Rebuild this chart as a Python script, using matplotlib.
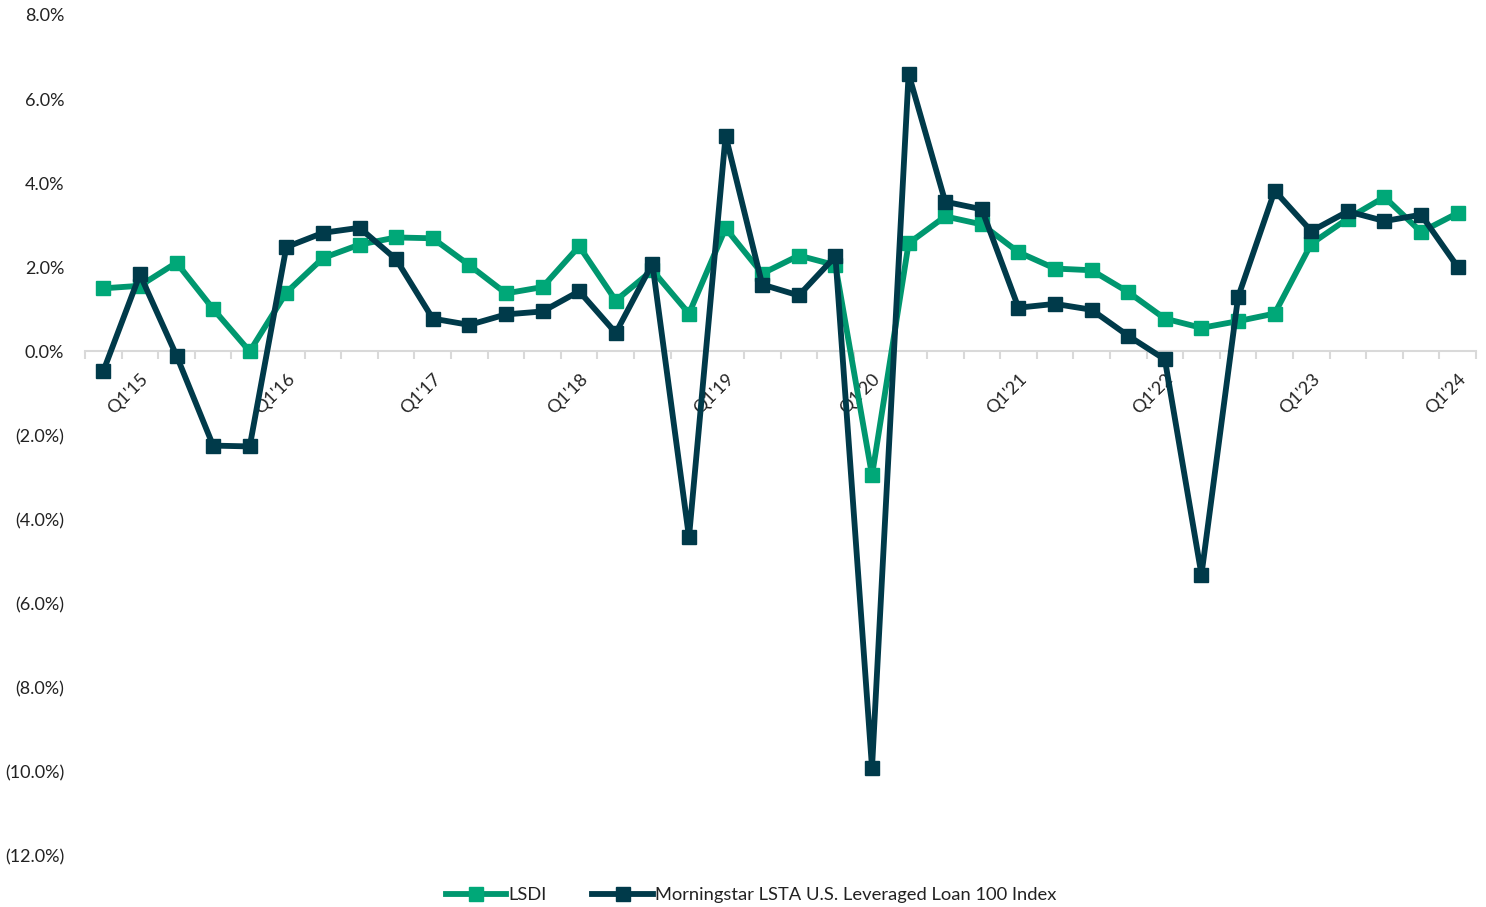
import matplotlib
matplotlib.use("Agg")
import matplotlib.pyplot as plt
from matplotlib.ticker import FixedLocator, FuncFormatter

plt.rcParams['font.family'] = ['Lato', 'DejaVu Sans']

quarters = ["Q4'14",
            "Q1'15", "Q2'15", "Q3'15", "Q4'15",
            "Q1'16", "Q2'16", "Q3'16", "Q4'16",
            "Q1'17", "Q2'17", "Q3'17", "Q4'17",
            "Q1'18", "Q2'18", "Q3'18", "Q4'18",
            "Q1'19", "Q2'19", "Q3'19", "Q4'19",
            "Q1'20", "Q2'20", "Q3'20", "Q4'20",
            "Q1'21", "Q2'21", "Q3'21", "Q4'21",
            "Q1'22", "Q2'22", "Q3'22", "Q4'22",
            "Q1'23", "Q2'23", "Q3'23", "Q4'23",
            "Q1'24"]

lsdi = [1.50, 1.56, 2.11, 1.01, 0.00, 1.40, 2.22, 2.54, 2.71, 2.69,
        2.05, 1.38, 1.53, 2.50, 1.21, 1.93, 0.90, 2.93, 1.85, 2.28,
        2.05, -2.95, 2.57, 3.21, 3.02, 2.36, 1.97, 1.93, 1.41, 0.78,
        0.56, 0.72, 0.90, 2.56, 3.16, 3.67, 2.84, 3.29]

lsta = [-0.47, 1.83, -0.10, -2.24, -2.26, 2.48, 2.82, 2.94, 2.19, 0.78,
        0.63, 0.88, 0.95, 1.43, 0.44, 2.09, -4.42, 5.13, 1.59, 1.33,
        2.26, -9.90, 6.60, 3.56, 3.38, 1.04, 1.13, 0.99, 0.37, -0.19,
        -5.31, 1.29, 3.82, 2.86, 3.33, 3.10, 3.25, 2.01]

series_names = ["LSDI", "Morningstar LSTA U.S. Leveraged Loan 100 Index"]
y_ticks = [8, 6, 4, 2, 0, -2, -4, -6, -8, -10, -12]

GREEN_LINE = "#00976F"
GREEN_MARK = "#00A878"
NAVY = "#003A4A"

fig = plt.figure(figsize=(14.86, 9.07), dpi=100)
ax = fig.add_axes([85/1486, 1 - 856/907, (1476 - 85)/1486, (856 - 15)/907])

x = list(range(len(quarters)))
ax.plot(x, lsdi, color=GREEN_LINE, lw=4.2, marker='s', markersize=10,
        markerfacecolor=GREEN_MARK, markeredgecolor=GREEN_MARK,
        label=series_names[0], zorder=3)
ax.plot(x, lsta, color=NAVY, lw=4.2, marker='s', markersize=10,
        markerfacecolor=NAVY, markeredgecolor=NAVY,
        label=series_names[1], zorder=4)

ax.set_xlim(-0.5, len(quarters) - 0.5)
ax.set_ylim(-12, 8)

for s in ['top', 'right', 'left']:
    ax.spines[s].set_visible(False)
ax.spines['bottom'].set_position(('data', 0))
ax.spines['bottom'].set_color('#D9D9D9')
ax.spines['bottom'].set_linewidth(1.5)
ax.spines['bottom'].set_zorder(1)

major_idx = [i for i, q in enumerate(quarters) if q.startswith("Q1")]
ax.xaxis.set_major_locator(FixedLocator(major_idx))
ax.set_xticklabels([quarters[i] for i in major_idx], rotation=45,
                   ha='right', va='top', rotation_mode='anchor',
                   fontsize=13, color='#222222')
ax.xaxis.set_minor_locator(FixedLocator([i - 0.5 for i in range(len(quarters) + 1)]))
ax.tick_params(axis='x', which='major', length=0, pad=14)
ax.tick_params(axis='x', which='minor', length=6, width=1.5, color='#D9D9D9')

def fmt(v, pos):
    if v < 0:
        return "({:.1f}%)".format(-v)
    return "{:.1f}%".format(v)

ax.yaxis.set_major_locator(FixedLocator(y_ticks))
ax.yaxis.set_major_formatter(FuncFormatter(fmt))
ax.tick_params(axis='y', length=0, pad=15, labelsize=13, labelcolor='#222222')

leg = fig.legend(loc='center', bbox_to_anchor=(751/1486, 1 - 895/907), ncol=2,
                 frameon=False, fontsize=13.2, handlelength=3.3,
                 handletextpad=0.1, columnspacing=2.5)
for t in leg.get_texts():
    t.set_color('#222222')

fig.savefig("out.png", dpi=100)
